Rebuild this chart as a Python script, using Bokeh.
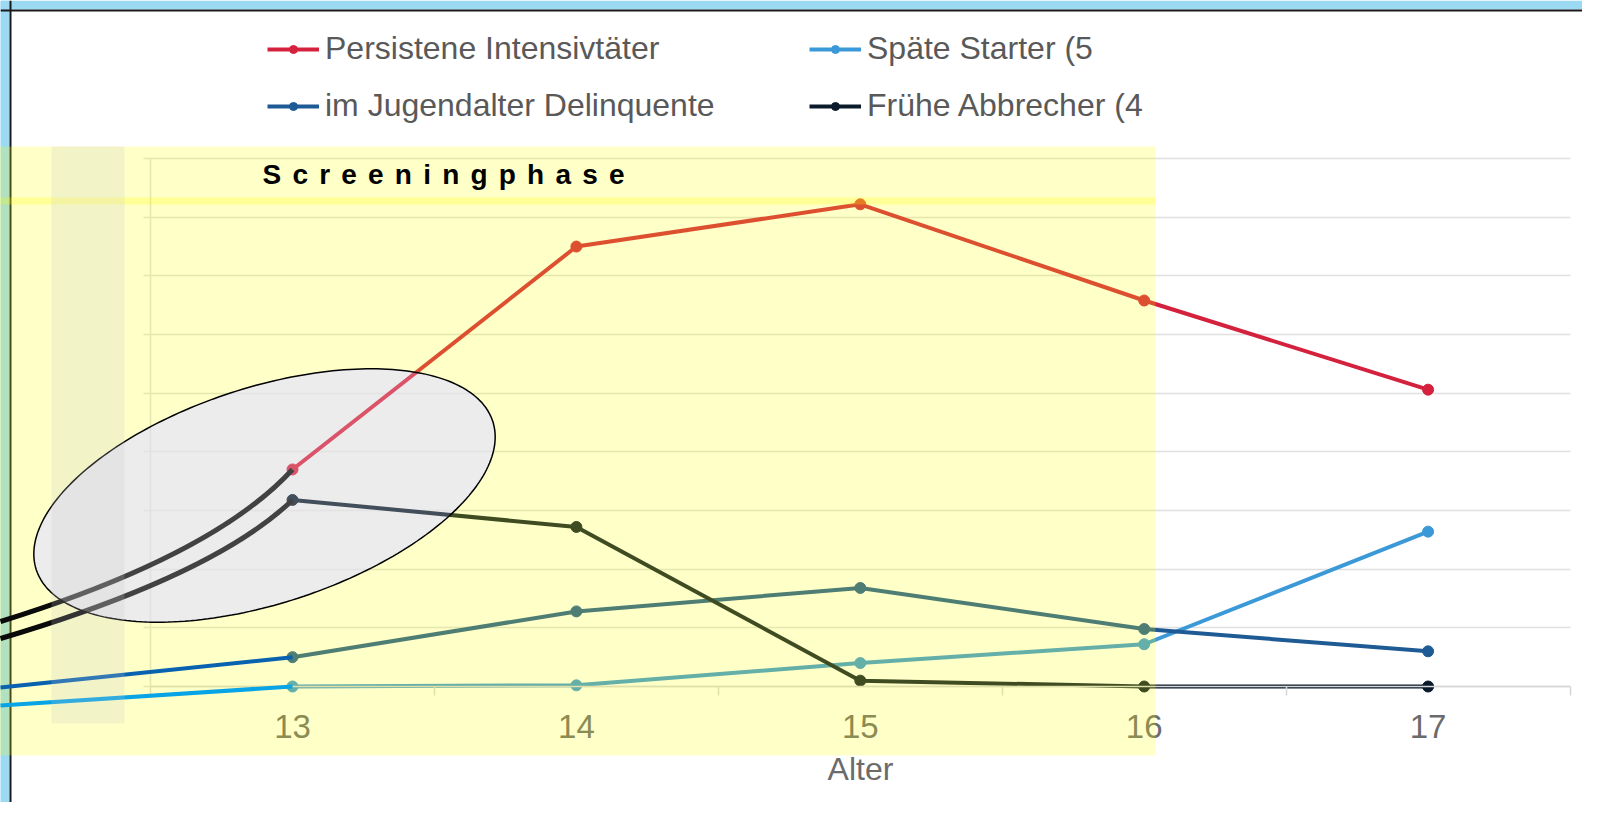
import numpy as np
from bokeh.plotting import figure
from bokeh.models import (Range1d, LinearAxis, FixedTicker, Grid, Legend, LegendItem,
                          BoxAnnotation, Label, Span)
from bokeh.embed import file_html
from bokeh.resources import INLINE

# ---------------- data ----------------
ages = [13, 14, 15, 16, 17]
persistente = [18.5, 37.5, 41.1, 32.9, 25.3]
spaete = [0.0, 0.1, 2.0, 3.6, 13.2]
jugend = [2.5, 6.4, 8.4, 4.9, 3.0]
fruehe = [15.9, 13.6, 0.5, 0.0, 0.0]
y_ticks = [0, 5, 10, 15, 20, 25, 30, 35, 40, 45]
x_bounds_ticks = [12.5, 13.5, 14.5, 15.5, 16.5, 17.5]
series_names = ["Persistene Intensivtäter", "Späte Starter (5",
                "im Jugendalter Delinquente", "Frühe Abbrecher (4"]
x_label = "Alter"
phase_label = "Screeningphase"

# ---------------- layout helpers (canvas pixels -> data) ----------------
W, H = 1582, 802
SX = 283.9      # px per age unit
SY = 11.732     # px per value unit


def px2x(px):
    return 13 + (np.asarray(px, dtype=float) - 292) / SX


def py2y(py):
    return (686 - np.asarray(py, dtype=float)) / SY


p = figure(width=W, height=H, output_backend="svg", toolbar_location=None, tools="",
           x_range=Range1d(float(px2x(0)), float(px2x(W))),
           y_range=Range1d(float(py2y(H)), float(py2y(0))),
           x_axis_type=None, y_axis_type=None, min_border=0)
p.background_fill_color = "white"
p.border_fill_color = "white"
p.outline_line_color = None

FONT = "Liberation Sans"

# ellipse geometry (px)
ECX, ECY, EA, EB, ETH = 264, 495, 240, 108, np.radians(18)
t = np.linspace(0, 2 * np.pi, 241)
edx = EA * np.cos(t) * np.cos(ETH) - EB * np.sin(t) * np.sin(ETH)
edy = EA * np.cos(t) * np.sin(ETH) + EB * np.sin(t) * np.cos(ETH)
ex = px2x(ECX + edx)
ey = py2y(ECY - edy)

ell_bg = p.patch(list(ex), list(ey), fill_color="#ececec", line_color=None)
ell_bg.level = "image"

# blue frame bands (top / left)
p.add_layout(BoxAnnotation(left=float(px2x(-5)), right=float(px2x(9)),
                           fill_color="#9cd9f3", fill_alpha=1.0, line_color=None,
                           level="underlay"))
p.add_layout(BoxAnnotation(bottom=float(py2y(9)),
                           fill_color="#9cd9f3", fill_alpha=1.0, line_color=None,
                           level="underlay"))
p.add_layout(Span(location=float(px2x(10)), dimension="height", line_color="#1a1a1a",
                  line_width=2, level="underlay"))
p.add_layout(Span(location=float(py2y(10)), dimension="width", line_color="#1a1a1a",
                  line_width=2, level="underlay"))

# grid
g = Grid(dimension=1, ticker=FixedTicker(ticks=y_ticks), grid_line_color="#e0e0e0",
         grid_line_width=1.5)
try:
    g.cross_bounds = (float(px2x(143)), 17.5)
except Exception:
    pass
p.add_layout(g)

# axes
xaxis = LinearAxis(fixed_location=0,
                   ticker=FixedTicker(ticks=ages, minor_ticks=x_bounds_ticks),
                   bounds=(12.5, 17.5), axis_label=x_label)
xaxis.axis_line_color = "#d6d6d6"
xaxis.axis_line_width = 1.5
xaxis.major_tick_line_color = None
xaxis.major_tick_out = 0
xaxis.minor_tick_line_color = "#d6d6d6"
xaxis.minor_tick_line_width = 1.5
xaxis.minor_tick_out = 9
xaxis.minor_tick_in = 0
xaxis.major_label_text_font = FONT
xaxis.major_label_text_font_size = "33px"
xaxis.major_label_text_color = "#6b6b6b"
xaxis.major_label_standoff = 19
xaxis.axis_label_text_font = FONT
xaxis.axis_label_text_font_size = "32px"
xaxis.axis_label_text_font_style = "normal"
xaxis.axis_label_text_color = "#6b6b6b"
xaxis.axis_label_standoff = 10
p.add_layout(xaxis, "below")

yaxis = LinearAxis(fixed_location=12.5, ticker=FixedTicker(ticks=y_ticks), bounds=(0, 45),
                   major_label_overrides={tk: "" for tk in y_ticks})
yaxis.axis_line_color = "#dedede"
yaxis.axis_line_width = 1.5
yaxis.major_tick_line_color = None
yaxis.minor_tick_line_color = None
p.add_layout(yaxis, "left")

# series
colors = ["#d4213d", "#3b99d8", "#1e5a94", "#0b1a2b"]
values = [persistente, spaete, jugend, fruehe]
lines, marks = [], []
for vals, c in zip(values, colors):
    lines.append(p.line(ages, vals, line_color=c, line_width=4))
    marks.append(p.scatter(ages, vals, size=11, fill_color=c, line_color=c))

# yellow overlay with elliptical hole
ox = [float(v) for v in px2x([-5, 1155, 1155, -5])]
oy = [float(v) for v in py2y([146, 146, 755, 755])]
yel = p.multi_polygons(xs=[[[ox, list(ex)]]], ys=[[[oy, list(ey)]]],
                       fill_color="#ffff00", fill_alpha=0.216, line_color=None)
yel.level = "annotation"
p.add_layout(BoxAnnotation(left=float(px2x(-5)), right=float(px2x(1155)),
                           top=float(py2y(197)), bottom=float(py2y(204)),
                           fill_color="#ffff00", fill_alpha=0.25, line_color=None,
                           level="annotation"))

# connectors and curves
con = p.segment(x0=[float(px2x(0))] * 2, y0=[float(py2y(687)), float(py2y(705))],
                x1=[ages[0], ages[0]], y1=[jugend[0], spaete[0]],
                line_color=["#0862b0", "#08a4e6"], line_width=4)
con.level = "overlay"
cur = p.quadratic(x0=[float(px2x(0))] * 2, y0=[float(py2y(621)), float(py2y(638))],
                  x1=[ages[0], ages[0]], y1=[persistente[0], fruehe[0]],
                  cx=[float(px2x(213))] * 2, cy=[float(py2y(555)), float(py2y(575))],
                  line_color="#0a0a0a", line_width=5)
cur.level = "overlay"

ell_fg = p.patch(list(ex), list(ey), fill_color="#ececec", fill_alpha=0.25,
                 line_color="black", line_width=1.5)
ell_fg.level = "overlay"

p.add_layout(BoxAnnotation(left=float(px2x(51)), right=float(px2x(124)),
                           top=float(py2y(146)), bottom=float(py2y(723)),
                           fill_color="#c8c8c8", fill_alpha=0.22, line_color=None,
                           level="overlay"))

# phase label
p.add_layout(Label(x=float(px2x(262)), y=float(py2y(174)),
                   text="\u2009\u2009".join(phase_label),
                   text_font=FONT, text_font_style="bold", text_font_size="28px",
                   text_color="black", text_baseline="alphabetic"))

# legend
order = [0, 2, 1, 3]
items = [LegendItem(label=series_names[i], renderers=[lines[i], marks[i]]) for i in order]
leg = Legend(items=items, location=(267, 678), ncols=2, orientation="vertical",
             label_text_font=FONT, label_text_font_size="32px", label_text_color="#595959",
             glyph_width=52, glyph_height=20, label_standoff=6, spacing=20,
             label_width=464, padding=0, margin=0, border_line_color=None,
             background_fill_alpha=0)
p.add_layout(leg)

open("out.html", "w", encoding="utf-8").write(file_html(p, INLINE))
